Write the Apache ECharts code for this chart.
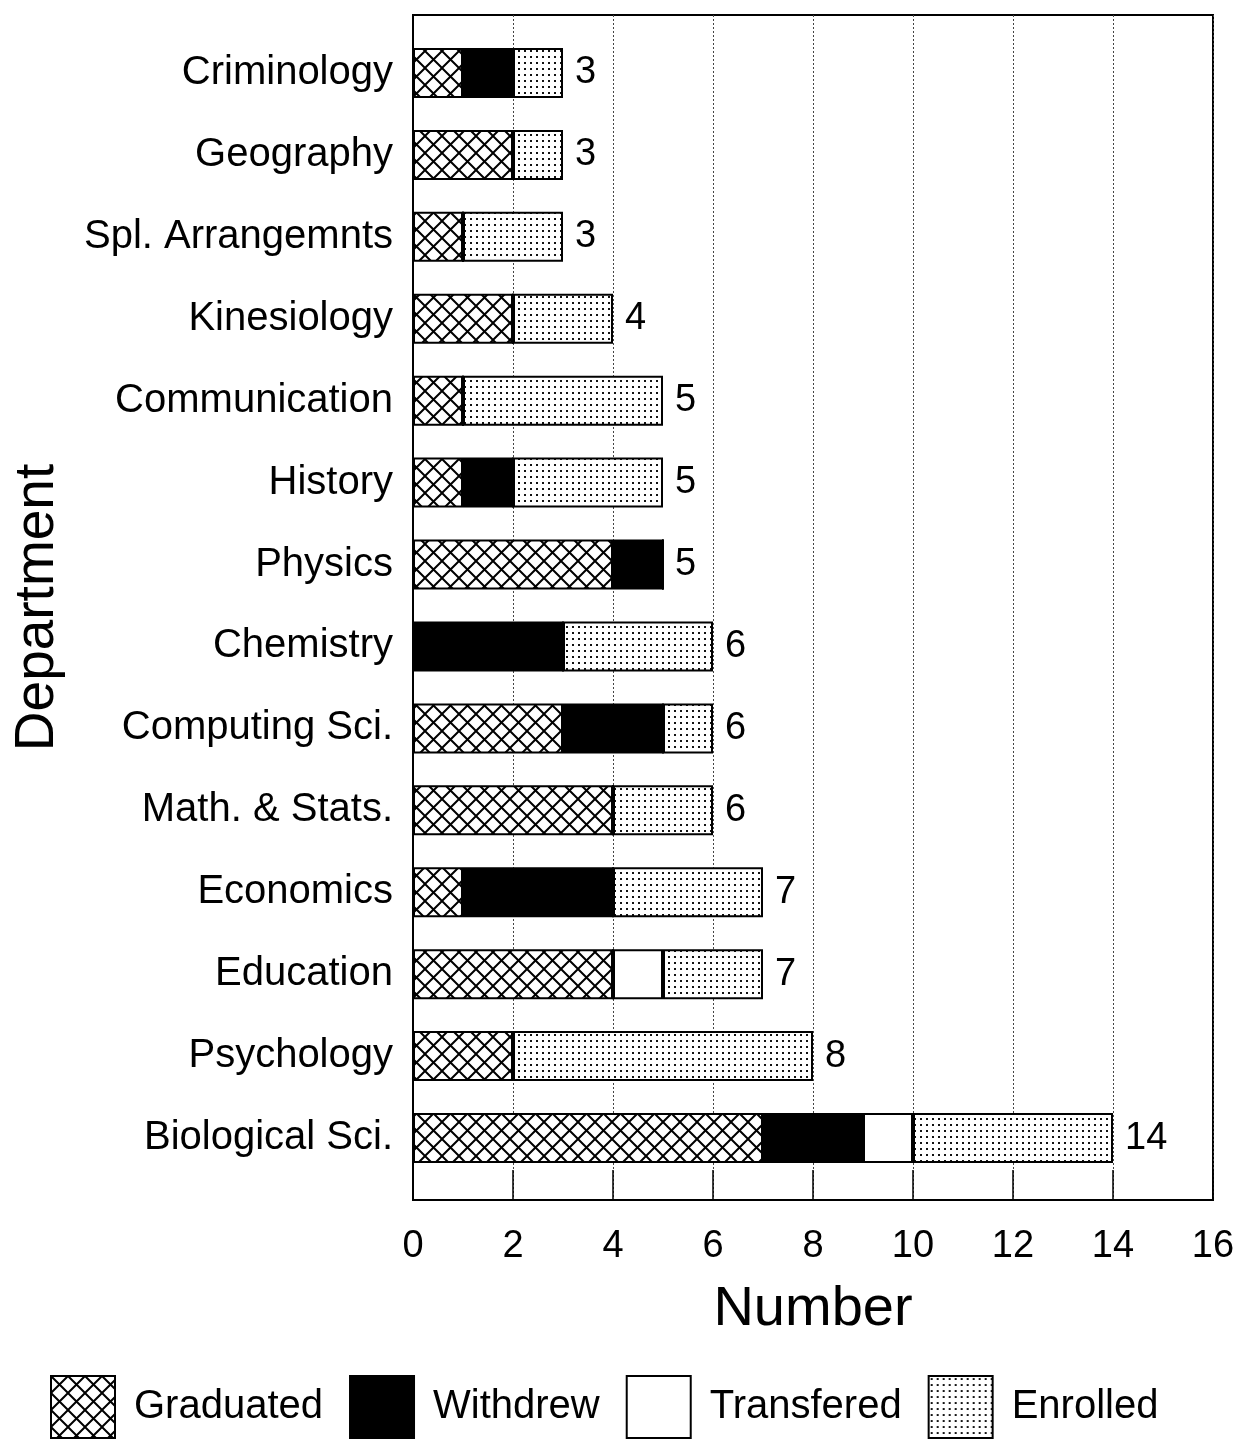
<!DOCTYPE html>
<html>
<head>
<meta charset="utf-8">
<script src="https://cdn.jsdelivr.net/npm/echarts@6/dist/echarts.min.js"></script>
<style>
  html, body { margin: 0; padding: 0; background: #fff; }
  #main { width: 1242px; height: 1441px; }
</style>
</head>
<body>
<div id="main"></div>
<script>
// departments, top to bottom
const departments = ['Criminology', 'Geography', 'Spl. Arrangemnts', 'Kinesiology', 'Communication',
  'History', 'Physics', 'Chemistry', 'Computing Sci.', 'Math. & Stats.', 'Economics',
  'Education', 'Psychology', 'Biological Sci.'];
const graduated  = [1, 2, 1, 2, 1, 1, 4, 0, 3, 4, 1, 4, 2, 7];
const withdrew   = [1, 0, 0, 0, 0, 1, 1, 3, 2, 0, 3, 0, 0, 2];
const transfered = [0, 0, 0, 0, 0, 0, 0, 0, 0, 0, 0, 1, 0, 1];
const enrolled   = [1, 1, 2, 2, 4, 3, 0, 3, 1, 2, 3, 2, 6, 4];
const xTicks = [0, 2, 4, 6, 8, 10, 12, 14, 16];

const totals = departments.map((d, i) => graduated[i] + withdrew[i] + transfered[i] + enrolled[i]);

function makePattern(size, draw) {
  const c = document.createElement('canvas');
  c.width = size; c.height = size;
  const ctx = c.getContext('2d');
  ctx.fillStyle = '#fff';
  ctx.fillRect(0, 0, size, size);
  draw(ctx, size);
  return { image: c, repeat: 'repeat' };
}

const crossHatch = makePattern(17, (ctx, s) => {
  ctx.strokeStyle = '#000';
  ctx.lineWidth = 2;
  ctx.beginPath();
  ctx.moveTo(0, 0); ctx.lineTo(s, s);
  ctx.moveTo(s, 0); ctx.lineTo(0, s);
  ctx.stroke();
});

const dots = makePattern(6, (ctx) => {
  ctx.fillStyle = '#111';
  ctx.fillRect(2, 2, 2, 2);
});

const font = 'Liberation Sans, Arial, sans-serif';

function barSeries(name, data, color) {
  return {
    name: name,
    type: 'bar',
    stack: 'all',
    xAxisIndex: 1,
    yAxisIndex: 1,
    barWidth: 50,
    data: data,
    itemStyle: { color: color, borderColor: '#000', borderWidth: 2 }
  };
}

const chart = echarts.init(document.getElementById('main'));
chart.setOption({
  backgroundColor: '#fff',
  animation: false,
  grid: [
    // frame, grid lines and number axis
    { left: 413, right: 29, top: 15, bottom: 241, show: true, borderColor: '#000', borderWidth: 2,
      outerBoundsMode: 'none', containLabel: false },
    // bars
    { left: 413, right: 29, top: 32, bottom: 262, outerBoundsMode: 'none', containLabel: false }
  ],
  legend: {
    data: ['Graduated', 'Withdrew', 'Transfered', 'Enrolled'],
    left: 45, top: 1370,
    icon: 'rect',
    itemWidth: 64, itemHeight: 62,
    itemGap: 26,
    textStyle: { fontFamily: font, fontSize: 40, color: '#000', padding: [0, 0, 0, 14] }
  },
  xAxis: [
    {
      type: 'value',
      gridIndex: 0,
      min: 0, max: 16, interval: 2,
      name: 'Number',
      nameLocation: 'middle',
      nameGap: 82,
      nameTextStyle: { fontFamily: font, fontSize: 56, color: '#000' },
      axisLine: { show: true, lineStyle: { color: '#000', width: 2 } },
      axisTick: { show: true, inside: true, length: 30, lineStyle: { color: '#000', width: 1.5 } },
      axisLabel: { fontFamily: font, fontSize: 38, color: '#000', margin: 28,
        formatter: v => xTicks.includes(v) ? String(v) : '' },
      splitLine: { show: true, lineStyle: { color: '#444', width: 1, type: [2, 2] } }
    },
    {
      type: 'value',
      gridIndex: 1,
      min: 0, max: 16, interval: 2,
      show: false
    }
  ],
  yAxis: [
    {
      type: 'value',
      gridIndex: 0,
      min: 0, max: 1,
      name: 'Department',
      nameLocation: 'middle',
      nameRotate: 90,
      nameGap: 348,
      nameTextStyle: { fontFamily: font, fontSize: 55, color: '#000' },
      axisLine: { show: true, lineStyle: { color: '#000', width: 2 } },
      axisTick: { show: false },
      axisLabel: { show: false },
      splitLine: { show: false }
    },
    {
      type: 'category',
      gridIndex: 1,
      inverse: true,
      data: departments,
      axisLine: { show: false },
      axisTick: { show: false },
      axisLabel: { fontFamily: font, fontSize: 40, color: '#000', margin: 20 }
    }
  ],
  series: [
    barSeries('Graduated', graduated, crossHatch),
    barSeries('Withdrew', withdrew, '#000'),
    barSeries('Transfered', transfered, '#fff'),
    barSeries('Enrolled', enrolled, dots),
    {
      name: 'Total',
      type: 'bar',
      stack: 'all',
      xAxisIndex: 1,
      yAxisIndex: 1,
      barWidth: 50,
      data: totals.map(() => 0),
      itemStyle: { color: 'transparent', borderWidth: 0 },
      label: {
        show: true,
        position: 'right',
        distance: 12,
        fontFamily: font,
        fontSize: 38,
        color: '#000',
        formatter: p => String(totals[p.dataIndex])
      }
    }
  ]
});
</script>
</body>
</html>
